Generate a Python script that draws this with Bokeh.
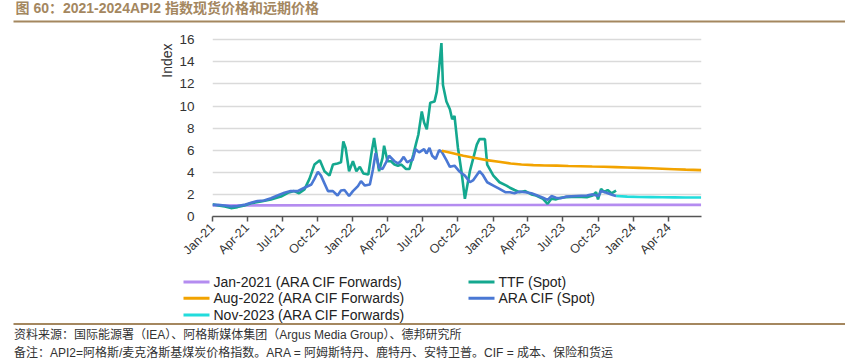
import pandas as pd
from math import pi
from bokeh.plotting import figure
from bokeh.layouts import column
from bokeh.models import (FixedTicker, DatetimeTickFormatter, Range1d, Title, ColumnDataSource)
from bokeh.core.properties import value
from bokeh.embed import file_html
from bokeh.resources import INLINE

# ---------------- data ----------------
ara_dates = ["2021-01-01", "2021-01-15", "2021-02-02", "2021-02-18", "2021-03-07", "2021-03-24",
             "2021-04-11", "2021-04-28", "2021-05-15", "2021-06-02", "2021-06-19", "2021-07-07",
             "2021-07-23", "2021-08-10", "2021-08-28", "2021-09-15", "2021-09-23", "2021-10-02",
             "2021-10-10", "2021-10-19", "2021-10-28", "2021-11-10", "2021-11-22", "2021-12-01",
             "2021-12-10", "2021-12-22", "2022-01-01", "2022-01-14", "2022-01-22", "2022-02-01",
             "2022-02-14", "2022-02-22", "2022-03-01", "2022-03-10", "2022-03-19", "2022-03-28",
             "2022-04-05", "2022-04-19", "2022-04-28", "2022-05-05", "2022-05-13", "2022-05-22",
             "2022-06-01", "2022-06-05", "2022-06-13", "2022-06-22", "2022-07-05", "2022-07-11",
             "2022-07-19", "2022-07-26", "2022-08-04", "2022-08-13", "2022-08-20", "2022-09-01",
             "2022-09-10", "2022-09-22", "2022-10-04", "2022-10-19", "2022-11-01", "2022-11-10",
             "2022-11-26", "2022-12-04", "2022-12-16", "2023-01-01", "2023-01-17", "2023-02-01",
             "2023-02-13", "2023-02-25", "2023-03-10", "2023-03-25", "2023-04-10", "2023-04-22",
             "2023-05-10", "2023-05-22", "2023-06-01", "2023-06-13", "2023-06-25", "2023-07-10",
             "2023-08-04", "2023-09-01", "2023-09-16", "2023-10-01", "2023-10-08", "2023-10-22",
             "2023-11-07", "2023-11-16"]
ara_spot = [1.05, 1.05, 1.0, 0.9, 0.95, 1.05,
            1.25, 1.4, 1.45, 1.65, 1.9, 2.15,
            2.3, 2.3, 2.6, 2.9, 3.4, 4.05,
            3.7, 3.0, 2.3, 2.3, 1.9, 2.35,
            2.4, 1.85, 2.3, 2.75, 3.2, 2.8,
            2.9, 4.25, 5.75, 4.4, 4.3, 4.9,
            5.5, 5.0, 4.8, 5.0, 5.4, 4.9,
            5.1, 5.1, 6.1, 5.8, 6.1, 5.7,
            6.2, 5.5, 5.2, 6.0, 5.85, 5.1,
            4.5, 4.6, 4.1, 3.7, 3.1, 3.3,
            4.1, 3.8, 3.1, 2.8, 2.5, 2.2,
            2.2, 2.1, 2.25, 2.2, 2.1, 1.95,
            1.7, 1.5, 1.85, 1.7, 1.65, 1.8,
            1.85, 1.9, 2.0, 1.85, 2.3, 2.15,
            1.95, 1.85]

ttf_dates = ["2021-01-01", "2021-01-16", "2021-02-02", "2021-02-18", "2021-03-07", "2021-03-25",
             "2021-04-11", "2021-05-07", "2021-06-02", "2021-06-28", "2021-07-16", "2021-08-01",
             "2021-08-14", "2021-08-28", "2021-09-10", "2021-09-23", "2021-10-07", "2021-10-19",
             "2021-11-01", "2021-11-10", "2021-11-22", "2021-12-01", "2021-12-07", "2021-12-13",
             "2021-12-22", "2022-01-01", "2022-01-10", "2022-01-19", "2022-01-28", "2022-02-10",
             "2022-02-19", "2022-02-25", "2022-03-01", "2022-03-10", "2022-03-19", "2022-03-23",
             "2022-04-01", "2022-04-10", "2022-04-19", "2022-04-28", "2022-05-07", "2022-05-19",
             "2022-05-28", "2022-06-07", "2022-06-14", "2022-06-20", "2022-06-29", "2022-07-05",
             "2022-07-12", "2022-07-21", "2022-08-01", "2022-08-07", "2022-08-13", "2022-08-19",
             "2022-08-23", "2022-09-01", "2022-09-10", "2022-09-16", "2022-09-22", "2022-10-01",
             "2022-10-10", "2022-10-19", "2022-11-01", "2022-11-19", "2022-11-26", "2022-12-10",
             "2022-12-16", "2023-01-01", "2023-01-17", "2023-02-04", "2023-02-13", "2023-02-25",
             "2023-03-10", "2023-03-25", "2023-04-10", "2023-04-22", "2023-05-10", "2023-05-22",
             "2023-06-01", "2023-06-13", "2023-06-25", "2023-07-10", "2023-08-04", "2023-09-01",
             "2023-09-16", "2023-09-25", "2023-09-30", "2023-10-08", "2023-10-16", "2023-10-25",
             "2023-11-04", "2023-11-16"]
ttf_spot = [1.1, 1.0, 0.9, 0.76, 0.85, 1.0,
            1.2, 1.35, 1.55, 1.8, 2.15, 2.3,
            2.1, 2.45, 3.4, 4.7, 5.1, 4.1,
            3.7, 4.7, 4.8, 4.9, 6.8, 6.2,
            4.1, 5.0, 4.1, 4.5, 3.9, 3.8,
            5.9, 7.1, 6.2, 4.1, 5.3, 6.4,
            5.0, 5.0, 4.7, 4.6, 4.7, 4.3,
            4.3, 5.6, 6.6, 7.4, 9.5, 8.5,
            7.9, 10.3, 10.4, 11.3, 13.4, 15.7,
            11.9, 10.4, 9.7, 8.8, 9.1, 6.2,
            4.1, 1.6, 4.1, 6.5, 7.0, 7.0,
            4.7, 3.7, 3.1, 2.8, 2.6, 2.4,
            2.2, 2.3, 2.0, 1.9, 1.6, 1.15,
            1.6, 1.55, 1.7, 1.75, 1.8, 1.75,
            1.9, 2.2, 1.55, 2.5, 2.2, 2.4,
            2.1, 2.35]

fwd_jan21_dates = ["2021-01-01", "2022-01-01", "2023-01-01", "2024-01-01", "2024-06-24"]
fwd_jan21 = [1.0, 1.02, 1.04, 1.05, 1.05]

fwd_aug22_dates = ["2022-08-20", "2022-09-15", "2022-10-15", "2022-11-15", "2022-12-15",
                   "2023-01-15", "2023-02-15", "2023-03-15", "2023-04-15", "2023-05-15",
                   "2023-06-15", "2023-07-15", "2023-08-15", "2023-09-15", "2023-10-15",
                   "2023-11-15", "2023-12-15", "2024-01-15", "2024-02-15", "2024-03-15",
                   "2024-04-15", "2024-05-15", "2024-06-24"]
fwd_aug22 = [5.95, 5.75, 5.5, 5.3, 5.1,
             4.95, 4.8, 4.7, 4.65, 4.62,
             4.6, 4.57, 4.55, 4.52, 4.5,
             4.47, 4.44, 4.4, 4.36, 4.32,
             4.28, 4.24, 4.2]

fwd_nov23_dates = ["2023-11-16", "2023-12-15", "2024-01-15", "2024-02-15", "2024-03-15",
                   "2024-04-15", "2024-05-15", "2024-06-24"]
fwd_nov23 = [1.85, 1.8, 1.76, 1.75, 1.74, 1.73, 1.72, 1.72]

tick_dates = ["2021-01-01", "2021-04-01", "2021-07-01", "2021-10-01", "2022-01-01", "2022-04-01",
              "2022-07-01", "2022-10-01", "2023-01-01", "2023-04-01", "2023-07-01", "2023-10-01",
              "2024-01-01", "2024-04-01"]
y_ticks = [0, 2, 4, 6, 8, 10, 12, 14, 16]

series_names = ["Jan-2021 (ARA CIF Forwards)", "Aug-2022 (ARA CIF Forwards)",
                "Nov-2023 (ARA CIF Forwards)", "TTF (Spot)", "ARA CIF (Spot)"]
title_text = "图 60：2021-2024API2 指数现货价格和远期价格"
note1 = "资料来源：国际能源署（IEA）、阿格斯媒体集团（Argus Media Group）、德邦研究所"
note2 = "备注：API2=阿格斯/麦克洛斯基煤炭价格指数。ARA = 阿姆斯特丹、鹿特丹、安特卫普。CIF = 成本、保险和货运"

# ---------------- styling ----------------
C_PURPLE = "#b48cf0"
C_ORANGE = "#f2a300"
C_CYAN = "#22dcdc"
C_TEAL = "#14a88f"
C_BLUE = "#4a78d4"
series_colors = [C_PURPLE, C_ORANGE, C_CYAN, C_TEAL, C_BLUE]
BROWN = "#a4875f"
FONT = "Liberation Sans"
CJK = "Liberation Sans, Noto Sans CJK SC"
WIDTH = 845
dt = pd.to_datetime


def blank(height):
    f = figure(width=WIDTH, height=height, output_backend="svg", toolbar_location=None,
               x_range=Range1d(0, WIDTH), y_range=Range1d(height, 0),
               x_axis_location=None, y_axis_location=None, min_border=0,
               frame_align=False)
    f.outline_line_color = None
    f.xgrid.grid_line_color = None
    f.ygrid.grid_line_color = None
    return f


# ---------------- title strip ----------------
top = blank(30)
top.text(x=[15], y=[7.5], text=[title_text], text_font=value(CJK),
         text_font_size=value("14px"), text_font_style="bold", text_color=BROWN,
         text_baseline="middle", text_align="left")
top.segment(x0=[13], y0=[21], x1=[WIDTH], y1=[21], line_color=BROWN, line_width=2)

# ---------------- main chart ----------------
p = figure(width=WIDTH, height=242, x_axis_type="datetime", output_backend="svg",
           toolbar_location=None, frame_align=False,
           x_range=Range1d(dt("2021-01-01"), dt("2024-06-25")),
           y_range=Range1d(0, 16.2),
           min_border_left=212, min_border_right=144, min_border_top=7,
           min_border_bottom=56)
p.outline_line_color = None

W = 2.6
p.line(dt(fwd_jan21_dates), fwd_jan21, color=C_PURPLE, line_width=W)
p.line(dt(ttf_dates), ttf_spot, color=C_TEAL, line_width=W)
p.line(dt(ara_dates), ara_spot, color=C_BLUE, line_width=W)
p.line(dt(fwd_aug22_dates), fwd_aug22, color=C_ORANGE, line_width=W)
p.line(dt(fwd_nov23_dates), fwd_nov23, color=C_CYAN, line_width=W)

xa = p.xaxis[0]
xa.ticker = FixedTicker(ticks=[dt(d).value / 1e6 for d in tick_dates])
xa.formatter = DatetimeTickFormatter(months="%b-%y", days="%b-%y", years="%b-%y")
xa.major_label_orientation = pi / 4
xa.major_label_text_font = FONT
xa.major_label_text_font_size = "12.5px"
xa.major_label_text_color = "#333333"
xa.axis_line_color = "#555555"
xa.axis_line_width = 1.5
xa.major_tick_line_color = "#555555"
xa.major_tick_line_width = 1.5
xa.major_tick_out = 5
xa.major_tick_in = 0
xa.minor_tick_line_color = None
xa.major_label_standoff = 4

ya = p.yaxis[0]
ya.ticker = FixedTicker(ticks=y_ticks)
ya.axis_line_color = None
ya.major_tick_line_color = None
ya.minor_tick_line_color = None
ya.major_label_standoff = 12
ya.major_label_text_font = FONT
ya.major_label_text_font_size = "13.5px"
ya.major_label_text_color = "#333333"

p.xgrid.grid_line_color = None
p.ygrid.grid_line_color = "#dadada"
p.ygrid.grid_line_width = 1.5

p.add_layout(Title(text="Index", align="right", offset=6, text_font=FONT,
                   text_font_size="14px", text_font_style="normal",
                   text_color="#333333", standoff=4), "left")

# ---------------- legend + notes strip ----------------
bot = blank(92)
leg_x0 = [183, 183, 183, 468, 468]
leg_y = [9.6, 25.8, 42.6, 9.6, 25.8]
leg_src = ColumnDataSource(dict(x0=leg_x0, x1=[x + 26 for x in leg_x0], y=leg_y,
                                tx=[x + 30 for x in leg_x0], name=series_names,
                                color=series_colors))
bot.segment(x0="x0", y0="y", x1="x1", y1="y", color="color", line_width=3, source=leg_src)
bot.text(x="tx", y="y", text="name", source=leg_src, text_font=value(FONT),
         text_font_size=value("14px"), text_color="#222222", text_baseline="middle",
         text_align="left")
bot.segment(x0=[13], y0=[51.5], x1=[WIDTH], y1=[51.5], line_color=BROWN, line_width=2)
bot.text(x=[13.5, 13.5], y=[62.7, 80.5], text=[note1, note2], text_font=value(CJK),
         text_font_size=value("12px"), text_color="#333333", text_baseline="middle",
         text_align="left")

layout = column(top, p, bot, spacing=0)
open("out.html", "w").write(file_html(layout, INLINE))
